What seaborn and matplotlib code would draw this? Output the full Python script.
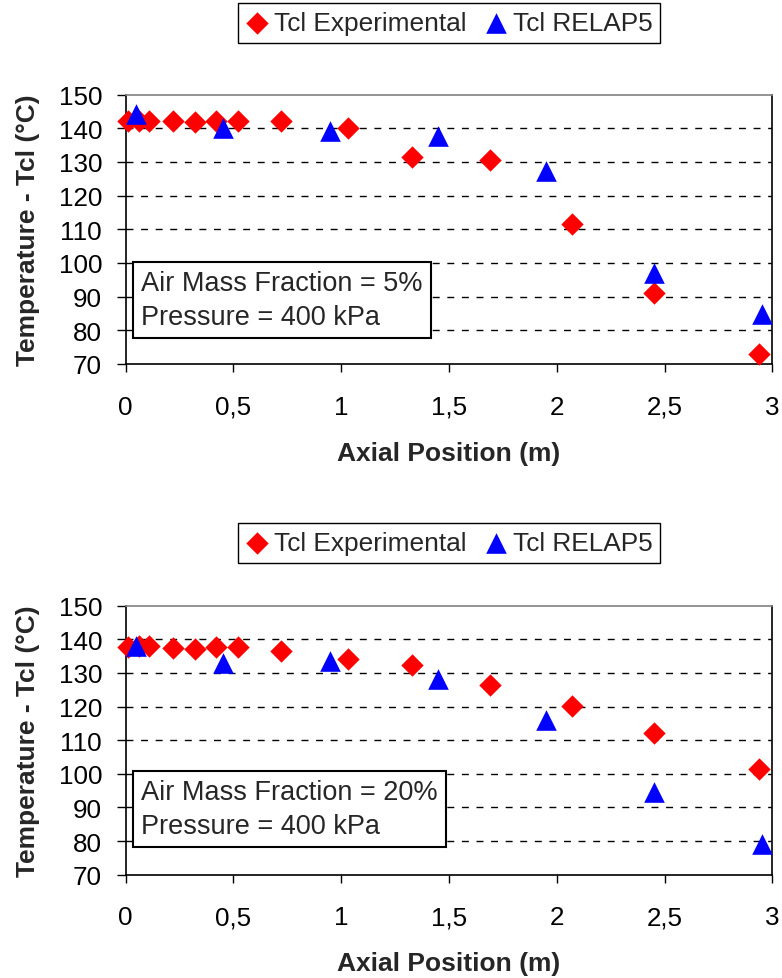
import matplotlib
matplotlib.use('Agg')
import matplotlib.pyplot as plt
import seaborn as sns

# axial positions (m) of the two data series
x_exp = [0.01, 0.06, 0.11, 0.22, 0.32, 0.42, 0.52, 0.72, 1.03, 1.33, 1.69, 2.07, 2.45, 2.94]
x_relap = [0.05, 0.45, 0.95, 1.45, 1.95, 2.45, 2.95]

# centerline temperature, 5% air mass fraction
tcl_exp_5 = [142.3, 142.3, 142.3, 142.3, 141.8, 142.3, 142.3, 142.3, 140.1, 131.6, 130.6, 111.6, 91.1, 73.0]
tcl_relap_5 = [144.2, 140.2, 139.1, 137.6, 127.3, 97.1, 84.8]

# centerline temperature, 20% air mass fraction
tcl_exp_20 = [137.6, 138.0, 138.1, 137.4, 137.0, 137.6, 137.6, 136.6, 134.0, 132.5, 126.3, 120.2, 112.0, 101.3]
tcl_relap_20 = [137.9, 133.0, 133.5, 128.2, 116.1, 94.5, 79.0]

x_ticks = [0, 0.5, 1, 1.5, 2, 2.5, 3]
x_tick_labels = ['0', '0,5', '1', '1,5', '2', '2,5', '3']
y_ticks = [70, 80, 90, 100, 110, 120, 130, 140, 150]

notes = ['Air Mass Fraction = 5%\nPressure = 400 kPa',
         'Air Mass Fraction = 20%\nPressure = 400 kPa']

sns.set_style('white')
plt.rcParams['font.family'] = ['Liberation Sans', 'DejaVu Sans']

fig = plt.figure(figsize=(7.82, 9.79), dpi=100)
ax_top = fig.add_axes([0.1607, 0.6272, 0.8269, 0.2751])
ax_bot = fig.add_axes([0.1607, 0.1055, 0.8269, 0.2748])


def draw_panel(ax, exp, relap, note, legend_y, note_y):
    sns.scatterplot(x=x_exp, y=exp, ax=ax, marker='D', color='#FF0000', s=130,
                    linewidth=0, label='Tcl Experimental', clip_on=False, zorder=3)
    sns.scatterplot(x=x_relap, y=relap, ax=ax, marker='^', color='#0000FF', s=220,
                    linewidth=0, label='Tcl RELAP5', clip_on=False, zorder=4)

    ax.set_xlim(0, 3)
    ax.set_ylim(70, 150)
    ax.set_xticks(x_ticks)
    ax.set_xticklabels(x_tick_labels)
    ax.set_yticks(y_ticks)
    ax.tick_params(axis='both', labelsize=18.7, colors='black', bottom=True, left=True,
                   direction='out', width=1)
    ax.tick_params(axis='x', length=6, pad=16)
    ax.tick_params(axis='y', length=6.5, pad=10.5)

    # dashed horizontal grid only
    ax.grid(False)
    for yv in y_ticks[1:-1]:
        ax.axhline(yv, color='black', linestyle=(0, (5, 5.5)), linewidth=1, zorder=1)

    for side in ['left', 'bottom', 'right']:
        ax.spines[side].set_color('black')
        ax.spines[side].set_linewidth(1.2)
    ax.spines['top'].set_color('#808080')
    ax.spines['top'].set_linewidth(1.2)

    ax.set_xlabel('Axial Position (m)', fontsize=19, fontweight='bold')
    ax.set_ylabel('Temperature - Tcl (°C)', fontsize=19, fontweight='bold')
    ax.xaxis.set_label_coords(0.5, -0.285)
    ax.yaxis.set_label_coords(-0.133, 0.5)

    ax.text(0.024, note_y, note, transform=ax.transAxes, fontsize=19.5,
            ha='left', va='bottom', linespacing=1.42,
            bbox=dict(boxstyle='square,pad=0.3', facecolor='white',
                      edgecolor='black', linewidth=1.5), zorder=5)

    leg = ax.legend(loc='lower center', bbox_to_anchor=(0.5, legend_y), ncol=2,
                    fontsize=18.9, frameon=True, fancybox=False, framealpha=1,
                    borderpad=0.3, handlelength=0.9, handletextpad=0.17,
                    columnspacing=0.7, borderaxespad=0)
    leg.get_frame().set_edgecolor('black')
    leg.get_frame().set_linewidth(1)


draw_panel(ax_top, tcl_exp_5, tcl_relap_5, notes[0], 1.192, 0.125)
draw_panel(ax_bot, tcl_exp_20, tcl_relap_20, notes[1], 1.159, 0.132)

fig.savefig('out.png', dpi=100)
